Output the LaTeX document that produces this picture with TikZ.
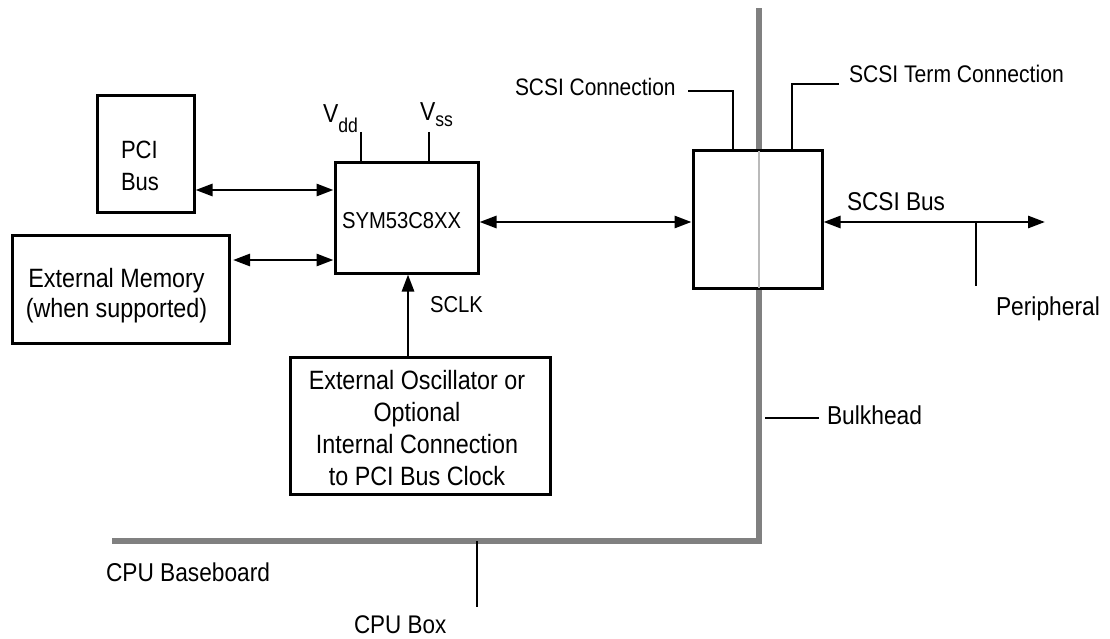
\documentclass[tikz,border=0pt]{standalone}
\usepackage{fontspec}
\setmainfont{Liberation Sans}[FakeStretch=0.88]
\usetikzlibrary{arrows.meta,calc}
\newcommand{\fs}[2]{\fontsize{#1}{#2}\selectfont}
\begin{document}
\begin{tikzpicture}[x=1pt,y=-1pt,
  box/.style={draw, line width=3pt, inner sep=0pt},
  txt/.style={inner sep=0pt, outer sep=0pt},
  bus/.style={line width=2.8pt, {Triangle[length=17pt,width=12pt]}-{Triangle[length=17pt,width=12pt]}},
  oneway/.style={line width=2.8pt, -{Triangle[length=17pt,width=12pt]}},
  lead/.style={line width=1.2pt},
  wall/.style={line width=5.5pt, black!50},
  inwall/.style={line width=2.3pt, black!27}]
\useasboundingbox (0,0) rectangle (1110,639);

% walls
\coordinate (wallL) at (112,541);
\coordinate (wallC) at (759,541);
\coordinate (wallT) at (759,8);
\draw[wall] (wallL) -- (wallC) -- (wallT);

% boxes
\node[box, minimum width=97pt, minimum height=116pt] (pci) at (145.5,154) {};
\node[box, minimum width=217pt, minimum height=108pt] (mem) at (120.5,289) {};
\node[box, minimum width=143pt, minimum height=110pt] (sym) at (406.5,218) {};
\node[box, minimum width=260pt, minimum height=137pt] (osc) at (420,425.5) {};
\node[box, fill=white, minimum width=129pt, minimum height=137pt] (scsi) at (757.5,219.5) {};
\draw[inwall] ([yshift=-1.5pt]wallT |- scsi.north) -- ([yshift=1.5pt]wallT |- scsi.south);

% box texts
\node[txt, anchor=north west, align=left, font=\fs{25}{32}] (pcit) at (121,141) {PCI\\Bus};
\node[txt, align=center, font=\fs{26.5}{30}] (memt) at (116.5,296) {External Memory\\(when supported)};
\node[txt, anchor=base west, font=\fs{23}{28}] (symt) at (342,228) {SYM53C8XX};
\node[txt, align=center, font=\fs{26.5}{31.7}] (osct) at (417,428) {External Oscillator or\\Optional\\Internal Connection\\to PCI Bus Clock};

% supply pins
\node[txt, anchor=base west, font=\fs{26}{30}] (vdd) at (323,123) {V\raisebox{-10pt}{\fs{20}{24}dd}};
\node[txt, anchor=base west, font=\fs{26}{30}] (vss) at (420,121) {V\raisebox{-6pt}{\fs{20}{24}ss}};
\coordinate (vddtop) at (361,132);
\coordinate (vsstop) at (429,132);
\draw[lead] (vddtop) -- (sym.north -| vddtop);
\draw[lead] (vsstop) -- (sym.north -| vsstop);

% buses
\coordinate (ypci) at (0,190);
\coordinate (ymem) at (0,260);
\coordinate (yscsi) at (0,222);
\coordinate (xclk) at (408,0);
\coordinate (busend) at (1045,222);
\draw[bus] (pci.east |- ypci) -- (sym.west |- ypci);
\draw[bus, shorten <=2.5pt] (mem.east |- ymem) -- (sym.west |- ymem);
\draw[bus] (sym.east |- yscsi) -- (scsi.west |- yscsi);
\draw[bus] (scsi.east |- yscsi) -- (busend);
\draw[oneway] (osc.north -| xclk) -- (sym.south -| xclk);
\node[txt, anchor=base west, font=\fs{23}{28}] (sclk) at (430,312) {SCLK};

% SCSI side labels
\node[txt, anchor=base west, font=\fs{25.7}{30}] (scsibus) at (847,211) {SCSI Bus};
\coordinate (pertop) at (976,222);
\coordinate (perbot) at (976,286);
\draw[lead] (pertop) -- (perbot);
\node[txt, anchor=base west, font=\fs{25.9}{30}] (per) at (996,315) {Peripheral};

\node[txt, anchor=base west, font=\fs{23.8}{30}] (scon) at (515,96) {SCSI Connection};
\coordinate (sconA) at (688,91);
\coordinate (sconB) at (733,91);
\draw[lead] (sconA) -- (sconB) -- (scsi.north -| sconB);

\node[txt, anchor=base west, font=\fs{24}{30}] (sterm) at (849,83) {SCSI Term Connection};
\coordinate (stermA) at (792,84);
\coordinate (stermB) at (839,84);
\draw[lead] (scsi.north -| stermA) -- (stermA) -- (stermB);

% bulkhead / baseboard labels
\coordinate (bulkA) at (765,418);
\coordinate (bulkB) at (819,418);
\draw[lead] (bulkA) -- (bulkB);
\node[txt, anchor=base west, font=\fs{25.9}{30}] (bulk) at (827,424) {Bulkhead};

\node[txt, anchor=base west, font=\fs{25.8}{30}] (base) at (106,581) {CPU Baseboard};
\coordinate (boxA) at (477,541);
\coordinate (boxB) at (477,607);
\draw[lead] (boxA) -- (boxB);
\node[txt, anchor=base west, font=\fs{25.5}{30}] (cpubox) at (354,633) {CPU Box};
\end{tikzpicture}
\end{document}
